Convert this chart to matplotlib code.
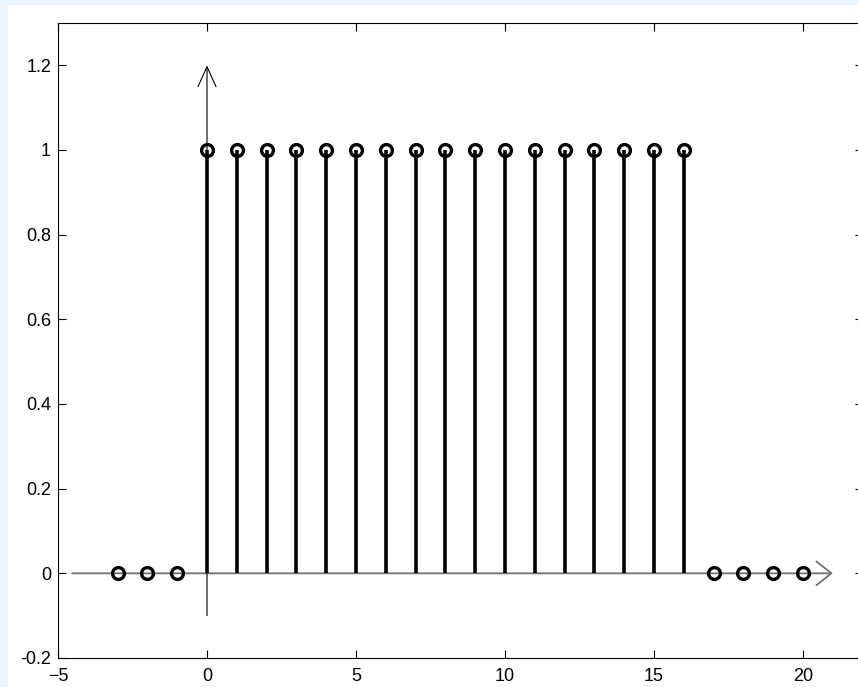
import matplotlib.pyplot as plt
from matplotlib.patches import Rectangle
from matplotlib.ticker import FormatStrFormatter

plt.rcParams['font.family'] = ['Liberation Sans', 'DejaVu Sans']

# unit pulse samples u[n] - u[n-17]
n = [-3, -2, -1, 0, 1, 2, 3, 4, 5, 6, 7, 8, 9, 10, 11, 12, 13, 14, 15, 16, 17, 18, 19, 20]
x = [0, 0, 0, 1, 1, 1, 1, 1, 1, 1, 1, 1, 1, 1, 1, 1, 1, 1, 1, 1, 0, 0, 0, 0]

xticks = [-5, 0, 5, 10, 15, 20]
yticks = [-0.2, 0, 0.2, 0.4, 0.6, 0.8, 1, 1.2]

fig = plt.figure(figsize=(8.58, 6.87), dpi=100, facecolor='#ebf5fd')
fig.add_artist(Rectangle((8 / 858, 0), 1, 1 - 5 / 687, transform=fig.transFigure,
                         facecolor='white', edgecolor='none', zorder=-5))

ax = fig.add_axes([58 / 858, 29 / 687, 804.6 / 858, 635 / 687])
ax.set_xlim(-5, 22)
ax.set_ylim(-0.2, 1.3)

# axis arrows
ax.annotate('', xy=(21, 0), xytext=(-4.53, 0),
            arrowprops=dict(arrowstyle='->,head_length=10.8,head_width=8.6',
                            color='#707070', lw=1.3, shrinkA=0, shrinkB=0,
                            mutation_scale=1), zorder=1)
ax.annotate('', xy=(0, 1.2), xytext=(0, -0.1),
            arrowprops=dict(arrowstyle='->,head_length=14.4,head_width=6.5',
                            color='black', lw=0.8, shrinkA=0, shrinkB=0,
                            mutation_scale=1), zorder=1)

ax.vlines(n, 0, x, colors='black', lw=2.6, zorder=2)
ax.plot(n, x, 'o', mfc='none', mec='black', mew=2.4, ms=8.5, zorder=3)

ax.set_xticks(xticks)
ax.set_yticks(yticks)
ax.yaxis.set_major_formatter(FormatStrFormatter('%g'))
ax.tick_params(direction='in', length=6, width=0.8, top=True, right=True,
               labelsize=13, colors='black')
ax.tick_params(axis='x', pad=7)
ax.tick_params(axis='y', pad=5)
for s in ax.spines.values():
    s.set_linewidth(0.8)

fig.savefig('out.png', dpi=100, facecolor=fig.get_facecolor())
